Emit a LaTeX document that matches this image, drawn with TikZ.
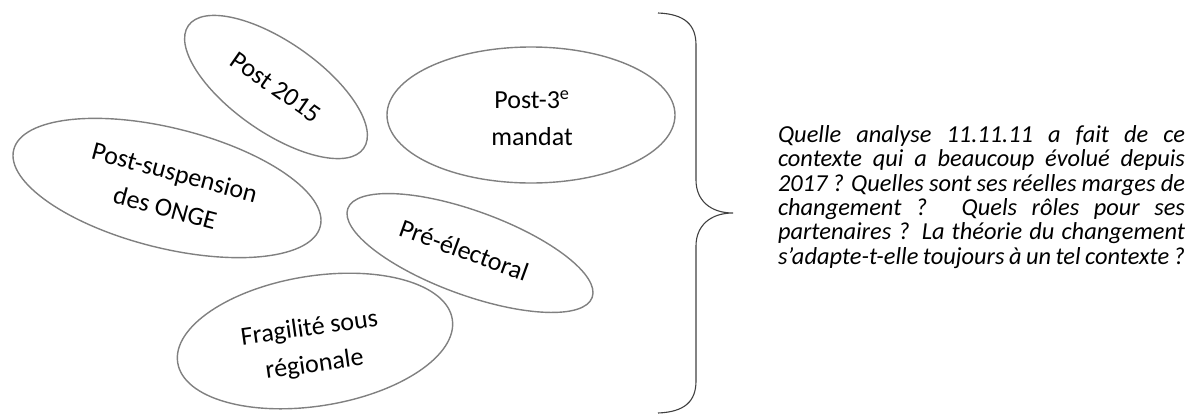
\documentclass[tikz,border=0pt]{standalone}
\usepackage{fontspec}
\setmainfont{Carlito}
\usetikzlibrary{shapes.geometric}
\tikzset{
  oval/.style={ellipse, draw=black!50, line width=1.4pt, inner sep=0pt},
  ovaltext/.style={font=\fontsize{26}{37}\selectfont, align=center, inner sep=0pt},
  bracestyle/.style={draw=black!75, line width=1.1pt},
}
\begin{document}
\begin{tikzpicture}[x=1pt,y=-1pt]
\useasboundingbox (0,0) rectangle (1192,416);
% ellipses
\node[oval, minimum width=214pt, minimum height=90pt, rotate=-35] (p2015) at (276,87) {};
\node[ovaltext, rotate=-35] (p2015t) at (p2015.center) {Post 2015};
\node[oval, minimum width=316pt, minimum height=120pt, rotate=-14] (psusp) at (167,188) {};
\node[ovaltext, rotate=-15] (psuspt) at (170,190) {Post-suspension\\des ONGE};
\node[oval, minimum width=278pt, minimum height=130pt, rotate=9] (frag) at (315,341) {};
\node[ovaltext, rotate=8] (fragt) at (312,347) {Fragilité sous\\régionale};
\node[oval, minimum width=260pt, minimum height=84pt, rotate=-20] (pre) at (470,253) {};
\node[ovaltext, rotate=-20] (pret) at (464,250) {Pré-électoral};
\node[oval, minimum width=288pt, minimum height=136pt] (p3) at (531,115) {};
\node[ovaltext] (p3t) at (532,118) {Post-3\textsuperscript{e}\\mandat};
% brace
\coordinate (btop) at (658,13);
\coordinate (btip) at (733,213);
\coordinate (bbot) at (658,413);
\draw[bracestyle] (btop) .. controls (685,14) and (696,25) .. (696,45)
  -- (696,180) .. controls (696,200) and (710,213) .. (btip)
  .. controls (710,213) and (696,226) .. (696,246)
  -- (696,381) .. controls (696,401) and (685,412) .. (bbot);
% text
\node[font=\fontsize{24.4}{24.4}\selectfont\itshape, text width=407pt, align=justify, inner sep=0pt] (q) at (981.5,197)
 {Quelle analyse 11.11.11 a fait de ce\linebreak
 contexte qui a beaucoup évolué depuis\linebreak
 2017~? Quelles sont ses réelles marges de\linebreak
 changement~? Quels rôles pour ses\linebreak
 partenaires~? La théorie du changement\linebreak
 s’adapte-t-elle toujours à un tel contexte~?};
\end{tikzpicture}
\end{document}
